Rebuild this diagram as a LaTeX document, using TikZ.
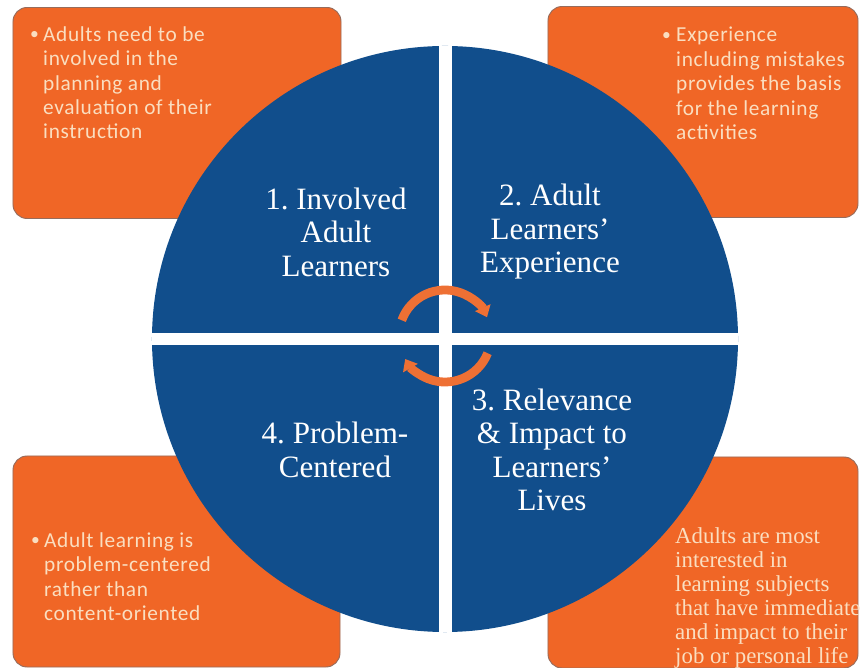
\documentclass[tikz,border=0pt]{standalone}
\usepackage{fontspec}
\setmainfont{Liberation Serif}
\newfontfamily\boxfont[LetterSpace=3]{Carlito}
\usetikzlibrary{arrows.meta,positioning,calc}
\definecolor{wheelblue}{RGB}{17,78,140}
\definecolor{tileorange}{RGB}{240,102,38}
\definecolor{tileedge}{RGB}{150,108,92}
\definecolor{peach}{RGB}{250,222,192}
\definecolor{spinorange}{RGB}{238,112,52}

\begin{document}
\begin{tikzpicture}[x=0.03cm,y=0.03cm,
  tile/.style={draw=tileedge,line width=0.8pt,fill=tileorange,rounded corners=12pt,inner sep=0pt,outer sep=0pt,minimum height=6.33cm},
  note/.style={text=peach,font=\boxfont\fontsize{18.2}{20.9}\selectfont,align=left,anchor=north west,inner sep=0pt},
  dot/.style={text=peach,font=\boxfont\fontsize{15}{20.9}\selectfont,anchor=north west,inner sep=0pt},
  quad/.style={text=white,font=\fontsize{26.5}{28.6}\selectfont,align=center},
  spin/.style={-{Triangle[length=9pt,width=14pt]},draw=spinorange,line width=7.5pt}]
  \useasboundingbox (0,0) rectangle (860,668);
  \node[tile,minimum width=9.84cm] (tl) at (177,555) {};
  \node[tile,minimum width=9.3cm] (tr) at (703,556) {};
  \node[tile,minimum width=9.81cm] (bl) at (176.5,106.5) {};
  \node[tile,minimum width=9.3cm] (br) at (703,105.5) {};
  \node[circle,fill=wheelblue,minimum size=17.58cm,inner sep=0pt] (wheel) at (445,329) {};
  \draw[white,line width=0.39cm] (wheel.north) -- (wheel.south);
  \draw[white,line width=0.36cm] (wheel.west) -- (wheel.east);
  \node[quad] (q1) at (336,436) {1.\ Involved\\Adult\\Learners};
  \node[quad] (q2) at (550,436) {2.\ Adult\\Learners’\\Experience};
  \node[quad] (q3) at (552,218) {3.\ Relevance\\\& Impact to\\Learners’\\Lives};
  \node[quad] (q4) at (335,218) {4.\ Problem-\\Centered};
  \node[dot] (b1) at (30,637) {\textbullet};
  \node[note] (n1) at (43,642) {Adults need to be\\involved in the\\planning and\\evaluation of their\\instruction};
  \node[dot] (b2) at (662,636) {\textbullet};
  \node[note] (n2) at (676,641) {Experience\\including mistakes\\provides the basis\\for the learning\\activities};
  \node[dot] (b3) at (31,131) {\textbullet};
  \node[note] (n3) at (44,136) {Adult learning is\\problem-centered\\rather than\\content-oriented};
  \node[note,font=\fontsize{19.5}{20.5}\selectfont] (n4) at (675,141) {Adults are most\\interested in\\learning subjects\\that have immediate\\and impact to their\\job or personal life};
  \coordinate (hub) at (445,332);
  \draw[spin] ([shift={(160:46)}]hub) arc[start angle=160,end angle=24,radius=46];
  \draw[spin] ([shift={(-22:46)}]hub) arc[start angle=-22,end angle=-150,radius=46];
\end{tikzpicture}
\end{document}
